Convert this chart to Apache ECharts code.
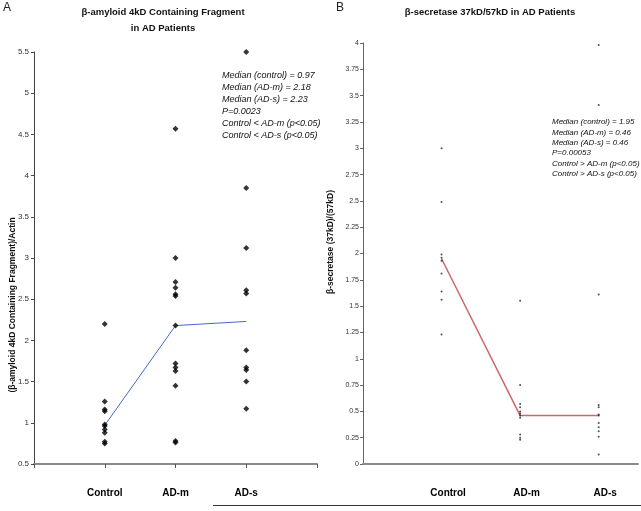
<!DOCTYPE html>
<html>
<head>
<meta charset="utf-8">
<script src="https://cdn.jsdelivr.net/npm/echarts@6/dist/echarts.min.js"></script>
<style>html,body{margin:0;padding:0;background:#fff}#c{width:641px;height:511px}</style>
</head>
<body>
<div id="c"></div>
<script>
// ---- Data ----
var categories = ['Control', 'AD-m', 'AD-s'];

// Panel A: beta-amyloid 4kD containing fragment / actin
var aControl = [2.2, 1.26, 1.16, 1.14, 0.98, 0.96, 0.92, 0.88, 0.77, 0.75];
var aADm = [4.57, 3.0, 2.71, 2.64, 2.56, 2.54, 2.18, 1.72, 1.67, 1.63, 1.45, 0.78, 0.76];
var aADs = [5.5, 3.85, 3.12, 2.61, 2.57, 1.88, 1.67, 1.64, 1.5, 1.17];
var aMedians = [0.97, 2.18, 2.23];
var aNotes = ['Median (control) = 0.97', 'Median (AD-m) = 2.18', 'Median (AD-s) = 2.23', 'P=0.0023', 'Control < AD-m (p<0.05)', 'Control < AD-s (p<0.05)'];

// Panel B: beta-secretase 37kD/57kD
var bControl = [3.0, 2.49, 1.99, 1.96, 1.93, 1.81, 1.64, 1.56, 1.23];
var bADm = [1.55, 0.75, 0.57, 0.54, 0.5, 0.48, 0.46, 0.44, 0.28, 0.25, 0.23];
var bADs = [3.98, 3.41, 1.61, 0.56, 0.54, 0.47, 0.46, 0.39, 0.35, 0.31, 0.26, 0.09];
var bMedians = [1.95, 0.46, 0.46];
var bNotes = ['Median (control) = 1.95', 'Median (AD-m) = 0.46', 'Median (AD-s) = 0.46', 'P=0.00053', 'Control > AD-m (p<0.05)', 'Control > AD-s (p<0.05)'];

var FONT = 'Liberation Sans, Arial, sans-serif';

function pts(vals, idx) { return vals.map(function (v) { return [idx, v]; }); }
function medPts(m) { return m.map(function (v, i) { return [i + 1, v]; }); }

var chart = echarts.init(document.getElementById('c'), null, { renderer: 'canvas' });

var catFmt = function (v) { return categories[v - 1] || ''; };

var option = {
  animation: false,
  backgroundColor: '#fff',
  textStyle: { fontFamily: FONT },
  grid: [
    { left: 34, top: 52, width: 283, height: 412 },
    { left: 363, top: 43, width: 278, height: 421 }
  ],
  xAxis: [
    {
      gridIndex: 0, type: 'value', min: 0, max: 4, interval: 1,
      axisLine: { lineStyle: { color: '#8a8a8a', width: 2 } },
      axisTick: { show: true, length: 4, lineStyle: { color: '#555', width: 1 } },
      splitLine: { show: false },
      axisLabel: { formatter: catFmt, color: '#000', fontWeight: 'bold', fontSize: 10, margin: 24, fontFamily: FONT }
    },
    {
      gridIndex: 1, type: 'value', min: 0, max: 3.5, interval: 1,
      axisLine: { lineStyle: { color: '#8a8a8a', width: 2 } },
      axisTick: { show: false },
      splitLine: { show: false },
      axisLabel: { formatter: catFmt, color: '#000', fontWeight: 'bold', fontSize: 10, margin: 24, padding: [0, 0, 0, 13], fontFamily: FONT }
    }
  ],
  yAxis: [
    {
      gridIndex: 0, type: 'value', min: 0.5, max: 5.5, interval: 0.5,
      axisLine: { show: true, lineStyle: { color: '#444', width: 1 } },
      axisTick: { show: true, length: 3, lineStyle: { color: '#444' } },
      splitLine: { show: false },
      axisLabel: { color: '#333', fontSize: 8, margin: 5, fontFamily: FONT }
    },
    {
      gridIndex: 1, type: 'value', min: 0, max: 4, interval: 0.25,
      axisLine: { show: true, lineStyle: { color: '#666', width: 1 } },
      axisTick: { show: true, length: 3, lineStyle: { color: '#666' } },
      splitLine: { show: false },
      axisLabel: { color: '#333', fontSize: 7, margin: 4, fontFamily: FONT }
    }
  ],
  series: [
    { type: 'line', xAxisIndex: 0, yAxisIndex: 0, data: medPts(aMedians), symbol: 'none', lineStyle: { color: '#4a68c8', width: 1 }, z: 1 },
    { type: 'scatter', xAxisIndex: 0, yAxisIndex: 0, data: pts(aControl, 1), symbol: 'diamond', symbolSize: 6, itemStyle: { color: '#000' }, z: 3 },
    { type: 'scatter', xAxisIndex: 0, yAxisIndex: 0, data: pts(aADm, 2), symbol: 'diamond', symbolSize: 6, itemStyle: { color: '#000' }, z: 3 },
    { type: 'scatter', xAxisIndex: 0, yAxisIndex: 0, data: pts(aADs, 3), symbol: 'diamond', symbolSize: 6, itemStyle: { color: '#000' }, z: 3 },
    { type: 'line', xAxisIndex: 1, yAxisIndex: 1, data: medPts(bMedians), symbol: 'none', lineStyle: { color: '#c8696b', width: 1.5 }, z: 1 },
    { type: 'scatter', xAxisIndex: 1, yAxisIndex: 1, data: pts(bControl, 1), symbol: 'circle', symbolSize: 2, itemStyle: { color: '#222' }, z: 3 },
    { type: 'scatter', xAxisIndex: 1, yAxisIndex: 1, data: pts(bADm, 2), symbol: 'circle', symbolSize: 2, itemStyle: { color: '#222' }, z: 3 },
    { type: 'scatter', xAxisIndex: 1, yAxisIndex: 1, data: pts(bADs, 3), symbol: 'circle', symbolSize: 2, itemStyle: { color: '#222' }, z: 3 }
  ],
  graphic: [
    { type: 'text', left: 3, top: 2, style: { text: 'A', font: '12px ' + FONT, fill: '#222' } },
    { type: 'text', left: 336, top: 2, style: { text: 'B', font: '12px ' + FONT, fill: '#222' } },
    { type: 'text', x: 163, y: 12, style: { text: 'β-amyloid 4kD Containing Fragment', font: 'bold 9.5px ' + FONT, fill: '#111', align: 'center', verticalAlign: 'middle' } },
    { type: 'text', x: 163, y: 28, style: { text: 'in AD Patients', font: 'bold 9.5px ' + FONT, fill: '#111', align: 'center', verticalAlign: 'middle' } },
    { type: 'text', x: 490, y: 12, style: { text: 'β-secretase 37kD/57kD in AD Patients', font: 'bold 9.5px ' + FONT, fill: '#111', align: 'center', verticalAlign: 'middle' } },
    { type: 'text', x: 13, y: 305, rotation: Math.PI / 2, style: { text: '(β-amyloid 4kD Containing Fragment)/Actin', font: 'bold 8.5px ' + FONT, fill: '#111', align: 'center', verticalAlign: 'middle' } },
    { type: 'text', x: 331, y: 242, rotation: Math.PI / 2, style: { text: 'β-secretase (37kD)/(57kD)', font: 'bold 8.5px ' + FONT, fill: '#111', align: 'center', verticalAlign: 'middle' } },
    { type: 'text', left: 222, top: 69, style: { text: aNotes.join('\n'), font: 'italic 9px ' + FONT, lineHeight: 12, fill: '#111' } },
    { type: 'text', left: 552, top: 117, style: { text: bNotes.join('\n'), font: 'italic 8px ' + FONT, lineHeight: 10.3, fill: '#111' } },
    { type: 'line', shape: { x1: 213, y1: 505.5, x2: 641, y2: 505.5 }, style: { stroke: '#333', lineWidth: 1 } }
  ]
};
chart.setOption(option);
</script>
</body>
</html>
